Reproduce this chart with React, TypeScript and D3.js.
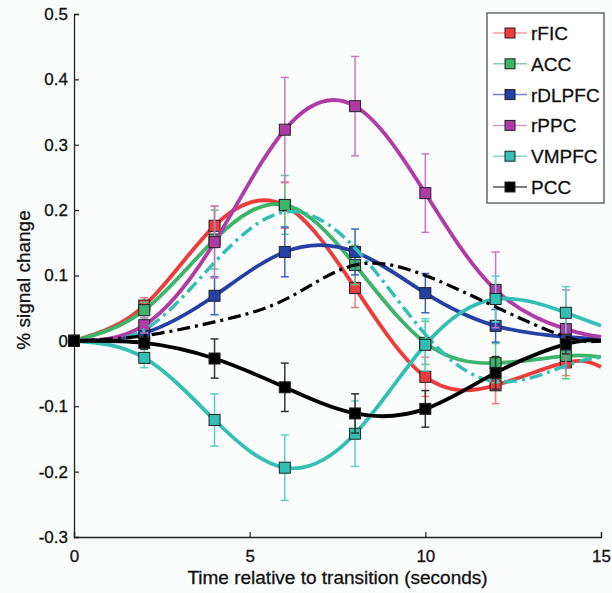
import React, { useRef, useEffect } from 'react';
import { select, scaleLinear, axisBottom, axisLeft, line, curveNatural } from 'd3';

const times = [0, 2, 4, 6, 8, 10, 12, 14];
const endTime = 15;

const seriesNames = ['rFIC', 'ACC', 'rDLPFC', 'rPPC', 'VMPFC', 'PCC'];
const seriesColors = ['#ee3b3b', '#3cb46a', '#2541a6', '#b03aa6', '#33bfb6', '#000000'];
const barColors = ['#f07a78', '#5cc884', '#3d62c8', '#c878c0', '#5ad0c8', '#333333'];
const legendLineColors = ['#f4a09a', '#7fd09c', '#6a82d0', '#d49ad0', '#80d8d0', '#555555'];

const rFIC = [0, 0.054, 0.176, 0.207, 0.081, -0.055, -0.068, -0.033];
const ACC = [0, 0.047, 0.155, 0.208, 0.116, -0.003, -0.034, -0.023];
const rDLPFC = [0, 0.012, 0.069, 0.136, 0.136, 0.073, 0.023, 0.006];
const rPPC = [0, 0.024, 0.151, 0.323, 0.359, 0.226, 0.078, 0.018];
const VMPFC = [0, -0.026, -0.121, -0.194, -0.142, -0.006, 0.064, 0.043];
const PCC = [0, -0.003, -0.027, -0.071, -0.111, -0.104, -0.049, -0.005];
const endValues = [-0.04, -0.025, 0.003, 0.006, 0.023, 0.0];

const rFICErr = [0, 0.012, 0.03, 0.035, 0.03, 0.03, 0.028, 0.02];
const ACCErr = [0, 0.012, 0.045, 0.045, 0.03, 0.033, 0.03, 0.035];
const rDLPFCErr = [0, 0.01, 0.029, 0.038, 0.035, 0.03, 0.025, 0.02];
const rPPCErr = [0, 0.012, 0.055, 0.08, 0.076, 0.06, 0.058, 0.06];
const VMPFCErr = [0, 0.015, 0.04, 0.05, 0.05, 0.04, 0.035, 0.04];
const PCCErr = [0, 0.01, 0.03, 0.037, 0.03, 0.028, 0.025, 0.015];

// dash-dot curves (no markers)
const dashTimes = [0, 2, 4, 6, 8, 10, 12, 14, 15];
const VMPFCdash = [0, 0.017, 0.12, 0.197, 0.142, 0.01, -0.062, -0.038, -0.025];
const PCCdash = [0, 0.008, 0.029, 0.063, 0.116, 0.1, 0.052, 0.006, 0.0];

const yTicks = [-0.3, -0.2, -0.1, 0, 0.1, 0.2, 0.3, 0.4, 0.5];
const xTicks = [0, 5, 10, 15];

const W = 612;
const H = 593;
const FONT = 'Liberation Sans, Arial, Helvetica, sans-serif';

const App = () => {
  const xAxisRef = useRef<SVGGElement>(null);
  const yAxisRef = useRef<SVGGElement>(null);

  const x = scaleLinear().domain([0, 15]).range([74, 601]);
  const y = scaleLinear().domain([-0.3, 0.5]).range([537, 14]);

  const values = [rFIC, ACC, rDLPFC, rPPC, VMPFC, PCC];
  const errors = [rFICErr, ACCErr, rDLPFCErr, rPPCErr, VMPFCErr, PCCErr];

  const path = line<[number, number]>()
    .x((d) => x(d[0]))
    .y((d) => y(d[1]))
    .curve(curveNatural);

  useEffect(() => {
    const xAxis = axisBottom(x).tickValues(xTicks).tickSize(-5).tickPadding(13).tickFormat((d) => String(d));
    const yAxis = axisLeft(y)
      .tickValues(yTicks)
      .tickSize(-5)
      .tickPadding(6)
      .tickFormat((d) => (+d === 0 ? '0' : String(Math.round(+d * 10) / 10)));
    const gx = select(xAxisRef.current).attr('transform', `translate(0,${y(-0.3)})`).call(xAxis);
    const gy = select(yAxisRef.current).attr('transform', `translate(${x(0)},0)`).call(yAxis);
    [gx, gy].forEach((g) => {
      g.select('.domain').attr('stroke', '#222').attr('stroke-width', 1.3);
      g.selectAll('.tick line').attr('stroke', '#222').attr('stroke-width', 1.2);
      g.selectAll('.tick text')
        .attr('font-size', 17)
        .attr('font-family', FONT)
        .attr('fill', '#111')
        .attr('stroke', '#111')
        .attr('stroke-width', 0.3);
    });
  }, []);

  return (
    <svg width={W} height={H} style={{ position: 'absolute', left: 0, top: 0, background: '#fbfcfc' }}>
      <g ref={xAxisRef} />
      <g ref={yAxisRef} />

      {values.map((vals, i) => {
        const pts: [number, number][] = times.map((t, j) => [t, vals[j]]);
        pts.push([endTime, endValues[i]]);
        return (
          <g key={seriesNames[i]}>
            {times.slice(1).map((t, j) => {
              const v = vals[j + 1];
              const e = errors[i][j + 1];
              const cx = x(t);
              return (
                <g key={t} stroke={barColors[i]} strokeWidth={1.5}>
                  <line x1={cx} x2={cx} y1={y(v - e)} y2={y(v + e)} />
                  <line x1={cx - 4} x2={cx + 4} y1={y(v - e)} y2={y(v - e)} />
                  <line x1={cx - 4} x2={cx + 4} y1={y(v + e)} y2={y(v + e)} />
                </g>
              );
            })}
            <path d={path(pts) || ''} fill="none" stroke={seriesColors[i]} strokeWidth={3.8} />
            {i === 4 && (
              <path
                d={path(dashTimes.map((t, j) => [t, VMPFCdash[j]] as [number, number])) || ''}
                fill="none"
                stroke={seriesColors[4]}
                strokeWidth={3.5}
                strokeDasharray="13,5,3,5"
              />
            )}
            {i === 5 && (
              <path
                d={path(dashTimes.map((t, j) => [t, PCCdash[j]] as [number, number])) || ''}
                fill="none"
                stroke="#000"
                strokeWidth={3.2}
                strokeDasharray="13,5,3,5"
              />
            )}
            {times.map((t, j) => (
              <rect
                key={t}
                x={x(t) - 5.5}
                y={y(vals[j]) - 5.5}
                width={11}
                height={11}
                fill={seriesColors[i]}
                stroke="#222"
                strokeWidth={1}
              />
            ))}
          </g>
        );
      })}

      <text
        x={(x(0) + x(15)) / 2}
        y={584}
        textAnchor="middle"
        fontSize={19}
        fontFamily={FONT}
        fill="#111"
        stroke="#111"
        strokeWidth={0.3}
      >
        Time relative to transition (seconds)
      </text>
      <text
        transform={`translate(30,280) rotate(-90)`}
        textAnchor="middle"
        fontSize={19}
        fontFamily={FONT}
        fill="#111"
        stroke="#111"
        strokeWidth={0.3}
      >
        % signal change
      </text>

      <g>
        <rect x={487} y={13} width={117} height={190} fill="#fff" stroke="#444" strokeWidth={1.2} />
        {seriesNames.map((name, i) => {
          const ly = 33 + i * 30.8;
          return (
            <g key={name}>
              <line x1={493} x2={527} y1={ly} y2={ly} stroke={legendLineColors[i]} strokeWidth={1.5} />
              <rect x={505} y={ly - 5} width={10} height={10} fill={seriesColors[i]} stroke="#222" strokeWidth={1} />
              <text x={531} y={ly + 7} fontSize={19} fontFamily={FONT} fill="#111" stroke="#111" strokeWidth={0.3}>
                {name}
              </text>
            </g>
          );
        })}
      </g>
    </svg>
  );
};

export default App;
